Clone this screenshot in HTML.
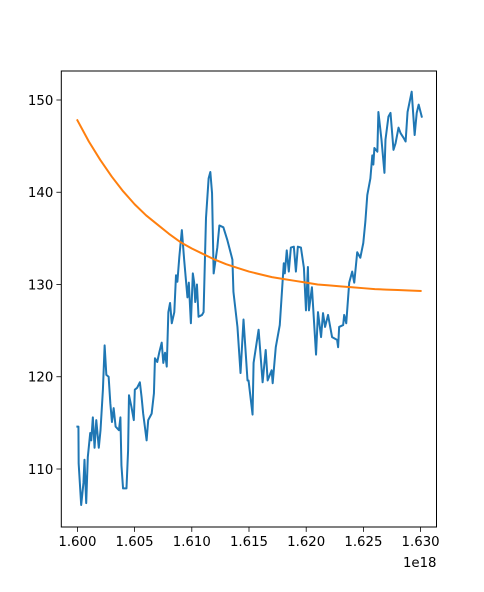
<!DOCTYPE html>
<html><head><meta charset="utf-8"><style>
html,body{margin:0;padding:0;background:#fff;}
svg{display:block;font-family:"DejaVu Sans","Liberation Sans",sans-serif;}
</style></head><body>
<svg id="chart" width="484" height="592" viewBox="0 0 484 592" xmlns="http://www.w3.org/2000/svg">
<rect x="0" y="0" width="484" height="592" fill="#fff"/>
<g id="plot"></g>
</svg>
<script>
const blueX = [1600.0,1600.09,1600.11,1600.33,1600.53,1600.62,1600.77,1600.91,1601.12,1601.21,1601.35,1601.50,1601.65,1601.87,1602.02,1602.23,1602.38,1602.53,1602.73,1602.88,1603.02,1603.17,1603.34,1603.63,1603.76,1603.85,1603.99,1604.29,1604.43,1604.51,1604.73,1604.93,1605.02,1605.22,1605.46,1605.61,1605.75,1606.05,1606.19,1606.49,1606.69,1606.78,1606.98,1607.15,1607.37,1607.51,1607.66,1607.81,1607.95,1608.10,1608.25,1608.47,1608.62,1608.74,1608.91,1609.13,1609.33,1609.62,1609.74,1609.92,1610.09,1610.21,1610.30,1610.45,1610.59,1610.89,1611.03,1611.24,1611.47,1611.62,1611.77,1611.91,1612.23,1612.41,1612.76,1613.11,1613.55,1613.64,1613.99,1614.26,1614.52,1614.87,1614.96,1615.31,1615.40,1615.84,1616.19,1616.46,1616.63,1616.98,1617.07,1617.34,1617.69,1618.04,1618.13,1618.30,1618.48,1618.66,1618.92,1619.10,1619.27,1619.54,1619.80,1619.98,1620.15,1620.24,1620.50,1620.86,1621.03,1621.30,1621.47,1621.65,1621.91,1622.26,1622.70,1622.79,1622.88,1623.23,1623.32,1623.50,1623.76,1624.02,1624.20,1624.46,1624.73,1624.99,1625.17,1625.34,1625.61,1625.78,1625.87,1625.96,1626.22,1626.31,1626.58,1626.84,1626.93,1627.19,1627.37,1627.63,1627.81,1628.07,1628.25,1628.51,1628.69,1628.86,1629.22,1629.48,1629.66,1629.83,1630.10];
const blueY = [114.6,114.6,110.6,106.1,108.5,111.0,106.3,111.3,113.9,113.1,115.6,112.3,115.3,112.3,114.2,118.6,123.4,120.2,120.0,117.1,115.1,116.6,114.6,114.2,115.6,110.4,107.9,107.9,112.0,118.0,116.7,115.3,118.6,118.8,119.4,117.8,116.0,113.1,115.3,116.0,118.2,122.0,121.6,122.6,123.7,121.5,122.6,121.1,127.0,128.0,125.8,127.0,131.0,130.3,133.0,135.9,132.7,128.6,130.2,125.8,131.2,130.2,128.1,130.0,126.5,126.7,127.0,137.2,141.5,142.2,139.9,131.2,134.0,136.4,136.2,134.8,132.7,129.2,125.4,120.4,126.2,119.6,119.6,115.9,121.5,125.1,119.4,122.9,119.6,120.7,119.3,123.2,125.6,132.3,131.2,133.7,131.4,134.0,134.1,131.4,134.1,134.0,131.8,127.2,131.9,127.2,129.7,122.4,127.0,124.3,126.9,125.4,126.7,124.3,124.0,123.2,125.4,125.6,126.7,125.8,130.2,131.4,130.2,133.5,132.9,134.5,136.8,139.7,141.5,144.0,143.0,144.8,144.4,148.7,145.7,142.1,145.7,148.2,148.6,144.6,145.3,147.0,146.4,145.9,145.5,148.7,150.9,146.2,148.6,149.5,148.2];
const orangeX = [1600,1601,1602,1603,1604,1605,1606,1607,1608,1609,1610,1611,1612,1613,1614,1615,1616,1617,1618,1619,1620,1621,1622,1623,1624,1625,1626,1627,1628,1629,1630];
const orangeY = [147.8,145.5,143.5,141.7,140.1,138.7,137.5,136.5,135.5,134.6,133.9,133.3,132.7,132.2,131.8,131.4,131.1,130.8,130.6,130.4,130.2,130.0,129.9,129.8,129.7,129.6,129.5,129.45,129.4,129.35,129.3];
const xTicks = [1600,1605,1610,1615,1620,1625,1630];
const xTickLabels = ["1.600","1.605","1.610","1.615","1.620","1.625","1.630"];
const yTicks = [110,120,130,140,150];
const yTickLabels = ["110","120","130","140","150"];

const NS="http://www.w3.org/2000/svg";
const L=61.3,R=436.5,T=71,B=527;
function sx(v){return 77.4+(v-1600)*11.44;}
function sy(v){return 100+(150-v)*9.225;}
const g=document.getElementById('plot');
function mk(tag,attrs){const e=document.createElementNS(NS,tag);for(const k in attrs)e.setAttribute(k,attrs[k]);g.appendChild(e);return e;}

function line(xs,ys,color,name){
  let d='';
  for(let i=0;i<xs.length;i++)d+=(i?'L':'M')+sx(xs[i]).toFixed(2)+','+sy(ys[i]).toFixed(2);
  const p=mk('path',{d:d,fill:'none',stroke:color,'stroke-width':2,'stroke-linejoin':'round','stroke-linecap':'square'});
  
  
}
line(blueX,blueY,'#1f77b4','blue-series-line');
line(orangeX,orangeY,'#ff7f0e','orange-series-line');

const frame=mk('rect',{x:L,y:T,width:R-L,height:B-T,fill:'none',stroke:'#000','stroke-width':1});



xTicks.forEach((v,i)=>{
  const x=sx(v);
  const t=mk('line',{x1:x,y1:B,x2:x,y2:B+4.9,stroke:'#000','stroke-width':0.8});
  
  
  const tx=mk('text',{x:x,y:B+19,'text-anchor':'middle','font-size':'13.3px',fill:'#000'});
  tx.textContent=xTickLabels[i];
  
  
});
yTicks.forEach((v,i)=>{
  const y=sy(v);
  const t=mk('line',{x1:L-4.9,y1:y,x2:L,y2:y,stroke:'#000','stroke-width':0.8});
  
  
  const tx=mk('text',{x:L-8,y:y+4.8,'text-anchor':'end','font-size':'13.3px',fill:'#000'});
  tx.textContent=yTickLabels[i];
  
  
});
const off=mk('text',{x:R,y:567,'text-anchor':'end','font-size':'13.3px',fill:'#000'});
off.textContent='1e18';


</script>
</body></html>
